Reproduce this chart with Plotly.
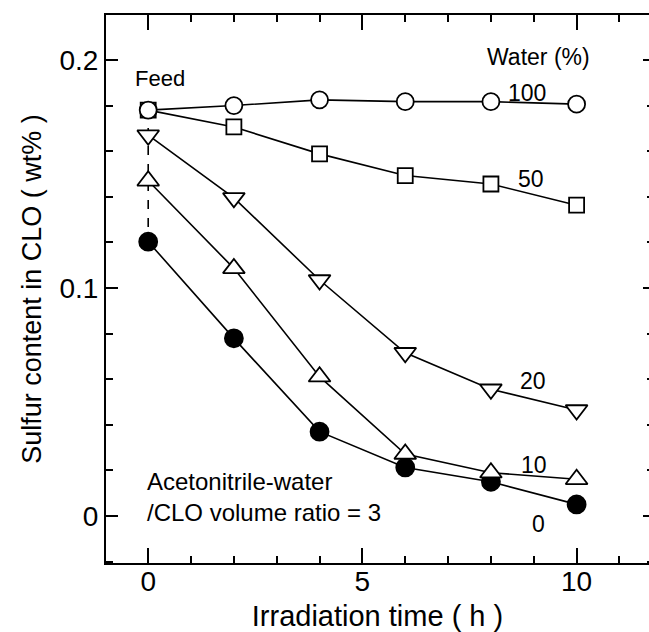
import plotly.graph_objects as go

# ---- data ----
time_h = [0, 2, 4, 6, 8, 10]
feed = 0.178
water_100 = [feed, 0.180, 0.1825, 0.1817, 0.1817, 0.1806]
water_50 = [feed, 0.1706, 0.1588, 0.1493, 0.1456, 0.1363]
water_20 = [0.167, 0.1395, 0.1035, 0.0716, 0.0556, 0.0465]
water_10 = [0.147, 0.1086, 0.0611, 0.0272, 0.0190, 0.0161]
water_0 = [0.1203, 0.0779, 0.0370, 0.0213, 0.0150, 0.0051]
series_labels = ["100", "50", "20", "10", "0"]
x_ticks = [0, 5, 10]
y_ticks = [0, 0.1, 0.2]
y_ticktext = ["0", "0.1", "0.2"]

FONT = "Liberation Sans, Arial, Helvetica, sans-serif"
BLACK = "black"

fig = go.Figure()

# dashed link from feed to 0 % point at t = 0
fig.add_trace(go.Scatter(x=[time_h[0], time_h[0]], y=[feed, water_0[0]],
                         mode="lines", line=dict(color=BLACK, width=1.6, dash="dash"),
                         showlegend=False, hoverinfo="skip"))

def add_series(y, symbol, size, fill):
    fig.add_trace(go.Scatter(
        x=time_h, y=y, mode="lines+markers",
        line=dict(color=BLACK, width=1.6),
        marker=dict(symbol=symbol, size=size, color=fill,
                    line=dict(color=BLACK, width=1.8)),
        showlegend=False))

add_series(water_0, "circle", 18, BLACK)
add_series(water_10, "triangle-up", 19, "white")
add_series(water_20, "triangle-down", 19, "white")
add_series(water_50, "square", 15, "white")
add_series(water_100, "circle", 17, "white")

# ---- text labels ----
label_pos = {
    "100": (8.84, 0.1855),
    "50": (8.94, 0.148),
    "20": (8.98, 0.0593),
    "10": (9.0, 0.0224),
    "0": (9.1, -0.0035),
}
for lab in series_labels:
    x, y = label_pos[lab]
    fig.add_annotation(x=x, y=y, text=lab, showarrow=False, xref="x", yref="y",
                       font=dict(family=FONT, size=23, color=BLACK))

fig.add_annotation(x=9.12, y=0.2013, text="Water (%)", showarrow=False,
                   font=dict(family=FONT, size=23, color=BLACK))
fig.add_annotation(x=0.28, y=0.192, text="Feed", showarrow=False,
                   font=dict(family=FONT, size=22, color=BLACK))
fig.add_annotation(x=-0.08, y=0.015, text="Acetonitrile-water", showarrow=False,
                   xanchor="left", font=dict(family=FONT, size=24, color=BLACK))
fig.add_annotation(x=-0.08, y=0.0015, text="/CLO volume ratio = 3", showarrow=False,
                   xanchor="left", font=dict(family=FONT, size=24, color=BLACK))

axis_common = dict(showgrid=False, zeroline=False, ticks="inside", automargin=False,
                   linecolor=BLACK, linewidth=2, tickcolor=BLACK, tickwidth=1.5,
                   tickfont=dict(family=FONT, size=28, color=BLACK))

YR = [-0.0206, 0.2197]
fig.update_layout(
    width=649, height=632,
    margin=dict(l=106, r=0, t=15, b=69),
    paper_bgcolor="white", plot_bgcolor="white",
    xaxis=dict(range=[-0.985, 11.69], tickvals=x_ticks, ticktext=[str(v) for v in x_ticks],
               ticklen=15, showline=True, mirror="ticks", ticklabelstandoff=-8,
               minor=dict(dtick=1, tick0=0, ticklen=7, ticks="inside", tickcolor=BLACK, tickwidth=1.5),
               title=dict(text="Irradiation time ( h )", standoff=16,
                          font=dict(family=FONT, size=29, color=BLACK)),
               **axis_common),
    yaxis=dict(range=YR, tickvals=y_ticks, ticktext=y_ticktext,
               ticklen=12, showline=True, mirror=False,
               minor=dict(dtick=0.02, tick0=0, ticklen=7, ticks="inside", tickcolor=BLACK, tickwidth=1.5),
               title=dict(text="Sulfur content in CLO ( wt% )", standoff=10,
                          font=dict(family=FONT, size=27, color=BLACK)),
               **axis_common),
    yaxis2=dict(overlaying="y", side="right", matches="y", showgrid=False, zeroline=False,
                showline=False, showticklabels=False, ticks="inside", ticklen=6,
                tickcolor=BLACK, tickwidth=1.5, tickvals=y_ticks, range=YR,
                minor=dict(dtick=0.02, tick0=0, ticklen=2, ticks="inside", tickcolor=BLACK)),
)
# invisible trace to activate the right-hand axis ticks
fig.add_trace(go.Scatter(x=[None], y=[None], yaxis="y2", showlegend=False, hoverinfo="skip"))

fig.write_html("out.html", config={"displayModeBar": False},
               post_script="document.body.style.margin='0';document.body.style.overflow='hidden';")
